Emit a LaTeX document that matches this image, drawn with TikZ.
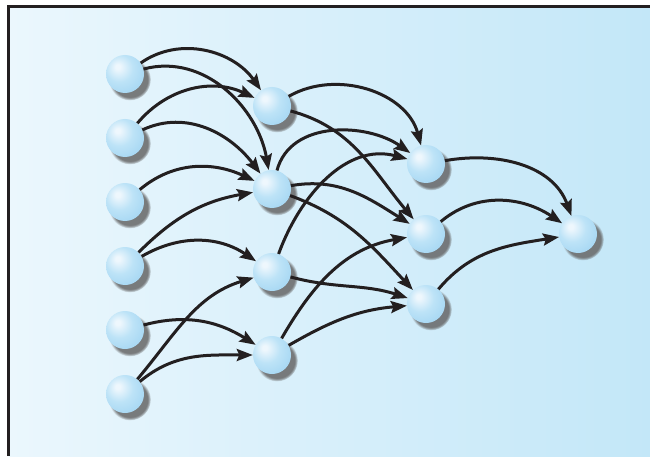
\documentclass[tikz,border=0pt]{standalone}
\usetikzlibrary{arrows.meta,shadows,fadings}

\definecolor{bgleft}{HTML}{EBF7FD}
\definecolor{bgright}{HTML}{C3E7F8}
\definecolor{ink}{HTML}{231F20}
\definecolor{sphHi}{HTML}{EEF7FD}
\definecolor{sphLight}{HTML}{BDE3F7}
\definecolor{sphMid}{HTML}{A0D4F2}
\definecolor{sphEdge}{HTML}{7AC1EA}

% glossy sphere: highlight towards the upper left
\pgfdeclareradialshading{sphereshade}{\pgfpoint{-10bp}{10bp}}{%
  color(0bp)=(sphHi); color(3bp)=(sphHi); color(18bp)=(sphLight);
  color(38bp)=(sphMid); color(58bp)=(sphEdge); color(75bp)=(sphEdge)}

\begin{document}
\begin{tikzpicture}[x=1pt,y=1pt,
  ball/.style={circle, minimum size=38pt, inner sep=0pt, shading=sphereshade,
    circular drop shadow={shadow xshift=4.5pt, shadow yshift=-5pt,
      shadow scale=1.1, fill=black!60, opacity=0.85}},
  link/.style={draw=ink, line width=3pt,
    -{Stealth[length=16pt,width=12pt,inset=2.5pt]}}]

\useasboundingbox (0,0) rectangle (650,456);

% panel with horizontal gradient and frame on the left and top
\shade[left color=bgleft, right color=bgright] (8.5,0) rectangle (650,449.5);
\draw[ink, line width=2.6pt] (8.5,0) -- (8.5,449.5) -- (650,449.5);

% input layer
\node[ball] (a1) at (125,382) {};
\node[ball] (a2) at (125,318) {};
\node[ball] (a3) at (125,254) {};
\node[ball] (a4) at (125,190) {};
\node[ball] (a5) at (125,126) {};
\node[ball] (a6) at (125,62) {};
% second layer
\node[ball] (b1) at (272,350) {};
\node[ball] (b2) at (272,267) {};
\node[ball] (b3) at (272,184) {};
\node[ball] (b4) at (272,101) {};
% third layer
\node[ball] (c1) at (426,292) {};
\node[ball] (c2) at (426,222) {};
\node[ball] (c3) at (426,152) {};
% output
\node[ball] (d1) at (578,222) {};

% first layer -> second layer
\draw[link] (a1) to[out=35,in=125] (b1);
\draw[link] (a1) to[out=15,in=100] (b2);
\draw[link] (a2) to[out=50,in=155] (b1);
\draw[link] (a2) to[out=25,in=127] (b2);
\draw[link] (a3) to[out=40,in=155] (b2);
\draw[link] (a4) to[out=45,in=190] (b2);
\draw[link] (a4) to[out=30,in=146] (b3);
\draw[link] (a5) to[out=15,in=148] (b4);
\draw[link] (a6) to[out=50,in=197] (b3);
\draw[link] (a6) to[out=40,in=180] (b4);

% second layer -> third layer
\draw[link] (b1) to[out=30,in=105] (c1);
\draw[link] (b1) to[out=-15,in=130] (c2);
\draw[link] (b2) to[out=75,in=145] (c1);
\draw[link] (b2) to[out=10,in=148] (c2);
\draw[link] (b2) to[out=-20,in=133] (c3);
\draw[link] (b3) to[out=70,in=165] (c1);
\draw[link] (b3) to[out=-15,in=162] (c3);
\draw[link] (b4) to[out=60,in=190] (c2);
\draw[link] (b4) to[out=30,in=185] (c3);

% third layer -> output
\draw[link] (c1) to[out=10,in=110] (d1);
\draw[link] (c2) to[out=40,in=146] (d1);
\draw[link] (c3) to[out=50,in=189] (d1);
\end{tikzpicture}
\end{document}
